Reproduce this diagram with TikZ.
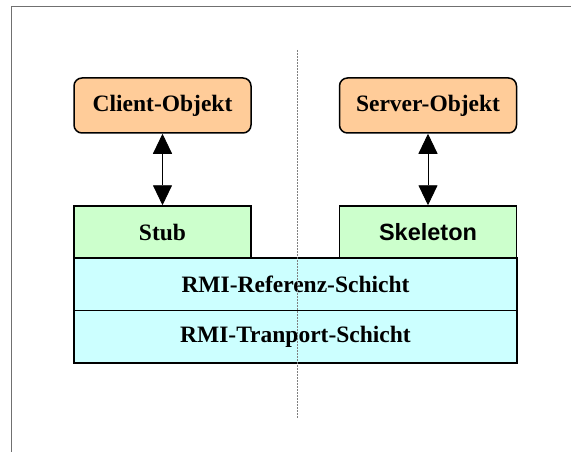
\documentclass[tikz,border=0pt]{standalone}
\usepackage{fontspec}
\setmainfont{Liberation Serif}
\newfontfamily\arialfont{Liberation Sans}
\usetikzlibrary{arrows.meta}
\definecolor{objorange}{HTML}{FFCC99}
\definecolor{stubgreen}{HTML}{CCFFCC}
\definecolor{layercyan}{HTML}{CCFFFF}
\definecolor{framegray}{HTML}{707070}
\tikzset{
  boxtext/.style={font=\fontsize{23.5}{28}\selectfont\bfseries, inner sep=0pt},
  objbox/.style={boxtext, draw=black, line width=1.5pt, fill=objorange,
    rounded corners=8pt, minimum width=177pt, minimum height=55pt},
  stubbox/.style={boxtext, draw=black, line width=1.5pt, fill=stubgreen,
    minimum width=177pt, minimum height=52pt},
  layerbox/.style={boxtext, draw=black, line width=1.5pt, fill=layercyan,
    minimum width=443pt, minimum height=52.5pt},
  link/.style={line width=0.9pt, {Triangle[width=19pt,length=20pt]}-{Triangle[width=19pt,length=20pt]}},
  divider/.style={draw=gray, line width=0.8pt, dash pattern=on 2pt off 1pt}
}
\begin{document}
\begin{tikzpicture}[x=1pt,y=-1pt]
  \useasboundingbox (0,0) rectangle (571,452);
  % page frame (left and top edges)
  \draw[framegray, line width=1pt] (11,452) -- (11,7) -- (571,7);

  % layered boxes
  \node[layerbox] (ref)   at (295.5,284)   {RMI-Referenz-Schicht};
  \node[layerbox] (trans) at (295.5,336.5) {RMI-Tranport-Schicht};
  \node[stubbox]  (stub)  at (162.5,232)   {Stub};
  \node[stubbox]  (skel)  at (428,232)     {\arialfont\bfseries Skeleton};
  \node[objbox]   (client) at (162.5,105.5) {Client-Objekt};
  \node[objbox]   (server) at (428,105.5)   {Server-Objekt};

  % object <-> stub/skeleton links
  \draw[link] (client.south) -- (stub.north);
  \draw[link] (server.south) -- (skel.north);

  % client/server divider
  \coordinate (divtop) at (297,50);
  \coordinate (divbot) at (297,418);
  \draw[divider] (divtop) -- (divbot);
\end{tikzpicture}
\end{document}
